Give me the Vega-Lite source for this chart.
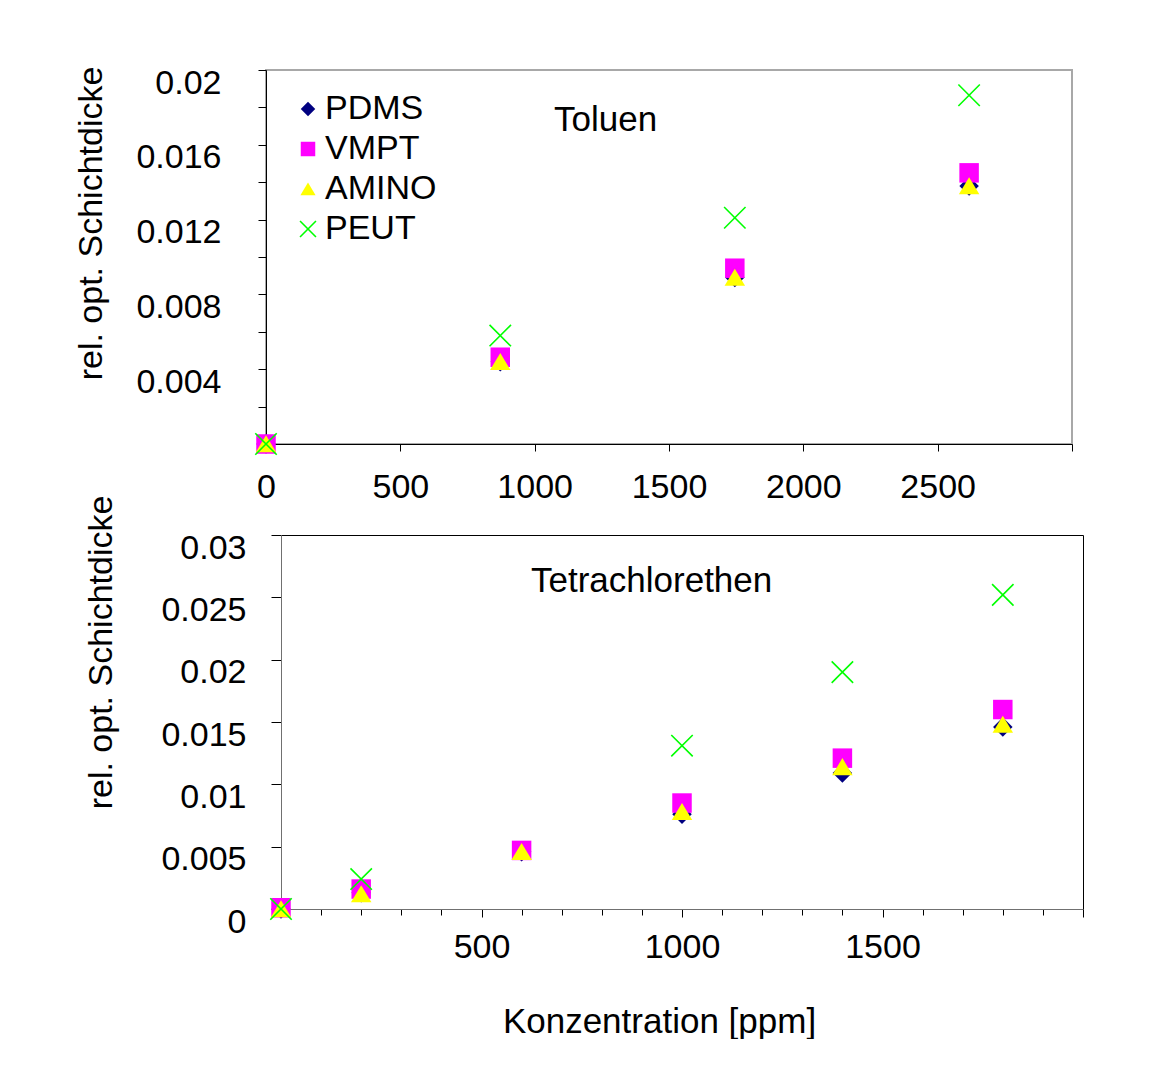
{
  "$schema": "https://vega.github.io/schema/vega-lite/v6.json",
  "background": "white",
  "padding": {"left": 72, "top": 65, "right": 0, "bottom": 0},
  "bounds": "flush",
  "spacing": 91,
  "config": {
    "font": "Liberation Sans",
    "view": {"stroke": null},
    "axis": {
      "labelFont": "Liberation Sans", "titleFont": "Liberation Sans",
      "labelFontSize": 34, "titleFontSize": 34,
      "labelColor": "black", "titleColor": "black", "titleFontWeight": "normal",
      "tickColor": "black", "domainColor": "black", "grid": false,
      "labelFlush": false, "labelOverlap": false, "labelBound": false,
      "tickWidth": 1, "domainWidth": 1
    }
  },
  "datasets": {
    "toluen": [
      {"series": "PDMS", "conc": 0, "value": 0},
      {"series": "VMPT", "conc": 0, "value": 0},
      {"series": "AMINO", "conc": 0, "value": 0},
      {"series": "PEUT", "conc": 0, "value": 0},
      {"series": "PDMS", "conc": 872, "value": 0.0044},
      {"series": "VMPT", "conc": 872, "value": 0.00464},
      {"series": "AMINO", "conc": 872, "value": 0.0044},
      {"series": "PEUT", "conc": 872, "value": 0.0058},
      {"series": "PDMS", "conc": 1745, "value": 0.0089},
      {"series": "VMPT", "conc": 1745, "value": 0.0094},
      {"series": "AMINO", "conc": 1745, "value": 0.0089},
      {"series": "PEUT", "conc": 1745, "value": 0.0121},
      {"series": "PDMS", "conc": 2617, "value": 0.0138},
      {"series": "VMPT", "conc": 2617, "value": 0.0145},
      {"series": "AMINO", "conc": 2617, "value": 0.0138},
      {"series": "PEUT", "conc": 2617, "value": 0.01865}
    ],
    "tetra": [
      {"series": "PDMS", "conc": 0, "value": 0},
      {"series": "VMPT", "conc": 0, "value": 0.0001},
      {"series": "AMINO", "conc": 0, "value": 0},
      {"series": "PEUT", "conc": 0, "value": 0},
      {"series": "PDMS", "conc": 200, "value": 0.0013},
      {"series": "VMPT", "conc": 200, "value": 0.0016},
      {"series": "AMINO", "conc": 200, "value": 0.0012},
      {"series": "PEUT", "conc": 200, "value": 0.0024},
      {"series": "PDMS", "conc": 600, "value": 0.0046},
      {"series": "VMPT", "conc": 600, "value": 0.0047},
      {"series": "AMINO", "conc": 600, "value": 0.0046},
      {"series": "PDMS", "conc": 1000, "value": 0.0076},
      {"series": "VMPT", "conc": 1000, "value": 0.0085},
      {"series": "AMINO", "conc": 1000, "value": 0.0078},
      {"series": "PEUT", "conc": 1000, "value": 0.0131},
      {"series": "PDMS", "conc": 1400, "value": 0.0109},
      {"series": "VMPT", "conc": 1400, "value": 0.0121},
      {"series": "AMINO", "conc": 1400, "value": 0.0114},
      {"series": "PEUT", "conc": 1400, "value": 0.019},
      {"series": "PDMS", "conc": 1800, "value": 0.0146},
      {"series": "VMPT", "conc": 1800, "value": 0.016},
      {"series": "AMINO", "conc": 1800, "value": 0.0148},
      {"series": "PEUT", "conc": 1800, "value": 0.0252}
    ]
  },
  "vconcat": [
    {
      "width": 806,
      "height": 374,
      "data": {"name": "toluen"},
      "view": {"stroke": "#a8a8a8", "strokeWidth": 2},
      "title": {"text": "Toluen", "anchor": "start", "frame": "group", "dx": 288, "dy": 89, "offset": 0, "baseline": "middle", "fontSize": 35, "fontWeight": "normal", "font": "Liberation Sans", "color": "black"},
      "mark": {"type": "point", "filled": true, "opacity": 1, "strokeWidth": 1.6, "size": 380},
      "encoding": {
        "x": {
          "field": "conc", "type": "quantitative",
          "scale": {"domain": [0, 3000], "nice": false},
          "axis": {"values": [0, 500, 1000, 1500, 2000, 2500, 3000], "format": "d", "labelExpr": "datum.value == 3000 ? '' : datum.label", "title": null, "tickSize": 7, "labelPadding": 19}
        },
        "y": {
          "field": "value", "type": "quantitative",
          "scale": {"domain": [0, 0.02], "nice": false},
          "axis": {
            "values": [0, 0.002, 0.004, 0.006, 0.008, 0.01, 0.012, 0.014, 0.016, 0.018, 0.02],
            "format": ".3~f",
            "labelExpr": "abs(datum.value * 250 - round(datum.value * 250)) < 0.001 && datum.value > 0 ? datum.label : ''",
            "tickSize": 8, "labelPadding": 37, "labelOffset": 13,
            "title": "rel. opt. Schichtdicke", "titleX": -175, "titleY": 153, "titleBaseline": "middle", "titleAngle": -90
          }
        },
        "color": {
          "field": "series", "type": "nominal",
          "scale": {"domain": ["PDMS", "VMPT", "AMINO", "PEUT"], "range": ["#000080", "#ff00ff", "#ffff00", "#00ff00"]},
          "legend": {"title": null, "orient": "none", "legendX": 25, "legendY": 22, "labelFontSize": 34, "labelFont": "Liberation Sans", "labelColor": "black", "symbolSize": 210, "rowPadding": 6, "padding": 0, "labelOffset": 0, "symbolStrokeWidth": 1.6}
        },
        "shape": {
          "field": "series", "type": "nominal",
          "scale": {"domain": ["PDMS", "VMPT", "AMINO", "PEUT"], "range": ["M0,-1L1,0L0,1L-1,0Z", "square", "M0,-0.9L1.05,0.85L-1.05,0.85Z", "M-1.1,-1.1L1.1,1.1M1.1,-1.1L-1.1,1.1"]},
          "legend": {"title": null, "orient": "none", "legendX": 25, "legendY": 22, "labelFontSize": 34, "labelFont": "Liberation Sans", "labelColor": "black", "symbolSize": 210, "rowPadding": 6, "padding": 0, "labelOffset": 0, "symbolStrokeWidth": 1.6}
        },
        "stroke": {
          "field": "series", "type": "nominal",
          "scale": {"domain": ["PDMS", "VMPT", "AMINO", "PEUT"], "range": ["transparent", "transparent", "transparent", "#00ff00"]},
          "legend": {"title": null, "orient": "none", "legendX": 25, "legendY": 22, "labelFontSize": 34, "labelFont": "Liberation Sans", "labelColor": "black", "symbolSize": 210, "rowPadding": 6, "padding": 0, "labelOffset": 0, "symbolStrokeWidth": 1.6}
        }
      }
    },
    {
      "width": 817,
      "height": 374,
      "data": {"name": "tetra"},
      "title": {"text": "Tetrachlorethen", "anchor": "start", "frame": "group", "dx": 265, "dy": 121, "offset": 0, "baseline": "middle", "fontSize": 35, "fontWeight": "normal", "font": "Liberation Sans", "color": "black"},
      "layer": [
        {
          "mark": {"type": "point", "filled": true, "opacity": 1, "strokeWidth": 1.6, "size": 380},
          "encoding": {
            "x": {
              "field": "conc", "type": "quantitative",
              "scale": {"domain": [0, 2000], "range": [15, 817], "nice": false},
              "axis": {
                "values": [0, 100, 200, 300, 400, 500, 600, 700, 800, 900, 1000, 1100, 1200, 1300, 1400, 1500, 1600, 1700, 1800, 1900, 2000],
                "format": "d",
                "labelExpr": "datum.value % 500 == 0 && datum.value > 0 && datum.value < 2000 ? datum.label : ''",
                "tickSize": {"condition": {"test": "datum.value % 500 == 0", "value": 8}, "value": 6},
                "labelPadding": 13, "domainColor": "#707070",
                "title": "Konzentration [ppm]", "titleFontSize": 35, "titleX": 393, "titleY": 112, "titleBaseline": "middle", "titleAnchor": "middle", "titleAlign": "center"
              }
            },
            "y": {
              "field": "value", "type": "quantitative",
              "scale": {"domain": [0, 0.03], "nice": false},
              "axis": {
                "values": [0, 0.005, 0.01, 0.015, 0.02, 0.025, 0.03],
                "format": ".3~f", "offset": -15, "domainColor": "#707070",
                "tickSize": 10, "labelPadding": 25, "labelOffset": 13,
                "title": "rel. opt. Schichtdicke", "titleX": -180, "titleY": 117, "titleBaseline": "middle", "titleAngle": -90
              }
            },
            "color": {
              "field": "series", "type": "nominal",
              "scale": {"domain": ["PDMS", "VMPT", "AMINO", "PEUT"], "range": ["#000080", "#ff00ff", "#ffff00", "#00ff00"]},
              "legend": null
            },
            "shape": {
              "field": "series", "type": "nominal",
              "scale": {"domain": ["PDMS", "VMPT", "AMINO", "PEUT"], "range": ["M0,-1L1,0L0,1L-1,0Z", "square", "M0,-0.9L1.05,0.85L-1.05,0.85Z", "M-1.1,-1.1L1.1,1.1M1.1,-1.1L-1.1,1.1"]},
              "legend": null
            },
            "stroke": {
              "field": "series", "type": "nominal",
              "scale": {"domain": ["PDMS", "VMPT", "AMINO", "PEUT"], "range": ["transparent", "transparent", "transparent", "#00ff00"]},
              "legend": null
            }
          }
        },
        {
          "mark": {"type": "point", "opacity": 0},
          "encoding": {
            "x": {"field": "conc", "type": "quantitative", "axis": {"orient": "top", "labels": false, "ticks": false, "title": null, "domainColor": "black"}},
            "y": {"field": "value", "type": "quantitative", "axis": {"orient": "right", "labels": false, "ticks": false, "title": null, "domainColor": "black"}}
          }
        }
      ],
      "resolve": {"axis": {"x": "independent", "y": "independent"}}
    }
  ],
  "resolve": {
    "scale": {"x": "independent", "y": "independent", "color": "independent", "shape": "independent", "stroke": "independent"},
    "legend": {"color": "independent", "shape": "independent", "stroke": "independent"}
  }
}
